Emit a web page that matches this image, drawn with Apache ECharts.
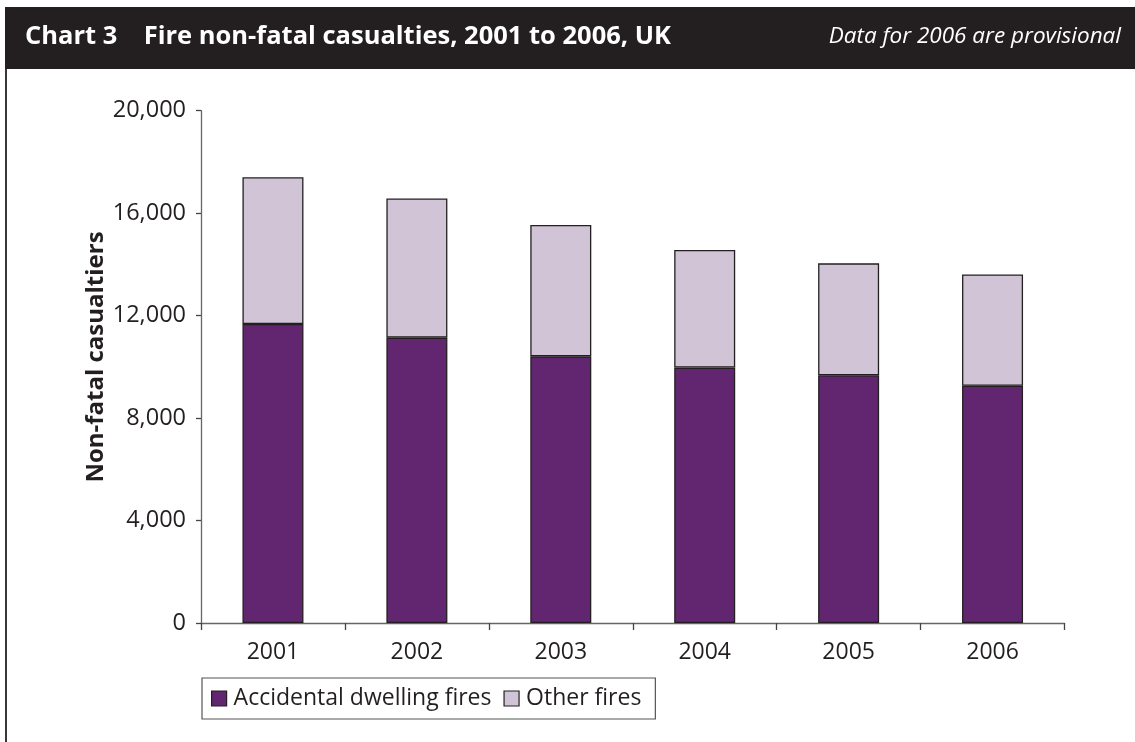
<!DOCTYPE html>
<html>
<head>
<meta charset="utf-8">
<script src="https://cdn.jsdelivr.net/npm/echarts@6/dist/echarts.min.js"></script>
<style>
html,body{margin:0;padding:0;background:#fff;}
#chart{width:1135px;height:742px;}
</style>
</head>
<body>
<div id="chart"></div>
<script>
const years = ['2001', '2002', '2003', '2004', '2005', '2006'];
const accidentalDwelling = [11670, 11140, 10410, 9970, 9670, 9260];
const otherFires = [5730, 5430, 5130, 4590, 4370, 4350];
const yTicks = [0, 4000, 8000, 12000, 16000, 20000];

const titleText = 'Chart 3    Fire non-fatal casualties, 2001 to 2006, UK';
const noteText = 'Data for 2006 are provisional';
const yName = 'Non-fatal casualtiers';
const seriesNames = ['Accidental dwelling fires', 'Other fires'];

const textColor = '#231f20';
const font = '"Open Sans", "Noto Sans", sans-serif';

const chart = echarts.init(document.getElementById('chart'), null, {renderer: 'canvas'});
chart.setOption({
  animation: false,
  backgroundColor: '#ffffff',
  textStyle: {fontFamily: font, color: textColor},
  graphic: [
    {type: 'rect', shape: {x: 5, y: 7, width: 1130, height: 62}, style: {fill: '#231f20'}, z: 10},
    {type: 'rect', shape: {x: 5, y: 69, width: 2, height: 673}, style: {fill: '#3a3738'}, z: 10},
    {type: 'text', z: 11,
      style: {x: 25, y: 37, text: titleText, fill: '#ffffff', font: 'bold 25.5px ' + font,
        align: 'left', verticalAlign: 'middle'}},
    {type: 'text', z: 11,
      style: {x: 1121, y: 37, text: noteText, fill: '#ffffff', font: 'italic 22.5px ' + font,
        align: 'right', verticalAlign: 'middle'}},
    {type: 'text', z: 11, x: 96, y: 357, rotation: Math.PI / 2,
      style: {x: 0, y: 0, text: yName, fill: textColor, font: 'bold 24px ' + font,
        align: 'center', verticalAlign: 'middle'}}
  ],
  grid: {left: 201, right: 70.5, top: 110.7, bottom: 119, containLabel: false},
  legend: {
    left: 202, top: 678,
    data: seriesNames,
    icon: 'rect',
    itemWidth: 15, itemHeight: 15, itemGap: 12,
    padding: [9, 14, 9, 9],
    borderColor: '#555', borderWidth: 1.2,
    textStyle: {fontSize: 23, color: textColor, fontFamily: font, padding: [0, 0, 0, 2]},
    itemStyle: {borderColor: textColor, borderWidth: 1.2}
  },
  xAxis: {
    type: 'category',
    data: years,
    axisLine: {lineStyle: {color: '#666', width: 1.3}},
    axisTick: {show: true, length: 7, lineStyle: {color: '#444', width: 1.3}},
    axisLabel: {fontSize: 23, color: textColor, margin: 18, fontFamily: font},
    splitLine: {show: false}
  },
  yAxis: {
    type: 'value',
    min: 0, max: 20000, interval: 4000,
    axisLine: {show: true, lineStyle: {color: '#666', width: 1.3}},
    axisTick: {show: true, length: 5, lineStyle: {color: '#444', width: 1.3}},
    axisLabel: {
      fontSize: 23.5, color: textColor, margin: 15, fontFamily: font,
      formatter: v => yTicks.includes(v) ? v.toLocaleString('en-GB') : ''
    },
    splitLine: {show: false}
  },
  series: [
    {
      name: seriesNames[0], type: 'bar', stack: 'total', data: accidentalDwelling,
      barWidth: 61,
      itemStyle: {color: '#622670', borderColor: textColor, borderWidth: 1.3}
    },
    {
      name: seriesNames[1], type: 'bar', stack: 'total', data: otherFires,
      barWidth: 61,
      itemStyle: {color: '#d1c4d6', borderColor: textColor, borderWidth: 1.3}
    }
  ]
});
</script>
</body>
</html>
